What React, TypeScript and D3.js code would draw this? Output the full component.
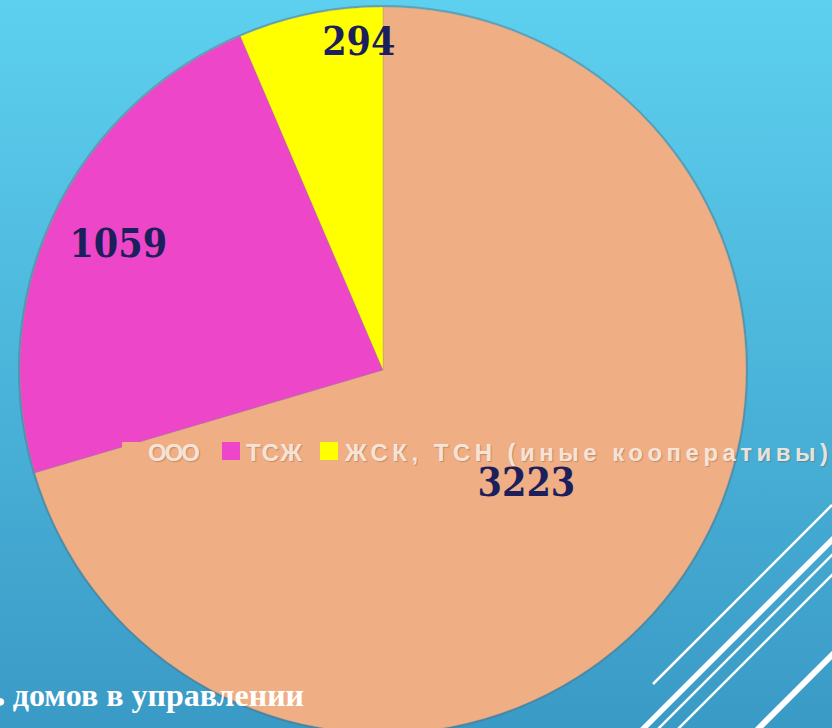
import React from "react";
import * as d3 from "d3";

const categories = ["ООО", "ТСЖ", "ЖСК, ТСН (иные кооперативы)"];
const values = [3223, 1059, 294];
const colors = ["#F0AE84", "#EE46C8", "#FFFF00"];
const title = "Численность домов в управлении";

// label placement: angle (deg clockwise from top) and radius fraction
const labelAngles = [127.8, 295.8, 355.8];
const labelRadii = [0.5, 0.81, 0.91];

const W = 832;
const H = 728;

export default function App() {
  const cx = 383;
  const cy = 370;
  const R = 363;
  const pie = d3.pie<number>().sort(null).value((d) => d)(values);
  const arc = d3.arc<d3.PieArcDatum<number>>().innerRadius(0).outerRadius(R);

  const legendItems = [
    { sx: 122, tx: 148, len: 52 },
    { sx: 222, tx: 246, len: 56 },
    { sx: 320, tx: 345, len: 483 },
  ];

  const diag = [
    { x1: 653, y1: 684, x2: 832, y2: 505, w: 2.5 },
    { x1: 642, y1: 730, x2: 834, y2: 538, w: 5.5 },
    { x1: 657, y1: 730, x2: 834, y2: 553, w: 2.5 },
    { x1: 677, y1: 730, x2: 834, y2: 573, w: 2.5 },
    { x1: 757, y1: 730, x2: 834, y2: 653, w: 6 },
  ];

  return (
    <svg
      width={W}
      height={H}
      style={{ position: "absolute", left: 0, top: 0 }}
      xmlns="http://www.w3.org/2000/svg"
    >
      <defs>
        <linearGradient id="bg" x1="0" y1="0" x2="0" y2="1">
          <stop offset="0%" stopColor="#5DD0EF" />
          <stop offset="100%" stopColor="#3A9AC6" />
        </linearGradient>
      </defs>
      <rect width={W} height={H} fill="url(#bg)" />

      {diag.map((d, i) => (
        <line key={i} x1={d.x1} y1={d.y1} x2={d.x2} y2={d.y2} stroke="#fff" strokeWidth={d.w} />
      ))}

      <g transform={`translate(${cx},${cy})`}>
        <circle r={R + 1} fill="none" stroke="#5a6d78" strokeOpacity={0.45} strokeWidth={2} />
        {pie.map((p, i) => (
          <path key={i} d={arc(p) || ""} fill={colors[i]} stroke="#9a8a80" strokeOpacity={0.35} strokeWidth={0.8} />
        ))}
        {pie.map((p, i) => {
          const a = (labelAngles[i] * Math.PI) / 180;
          const r = labelRadii[i] * R;
          return (
            <text
              key={i}
              x={Math.sin(a) * r}
              y={-Math.cos(a) * r}
              dy="0.38em"
              textAnchor="middle"
              fontFamily="'DejaVu Serif Condensed', 'DejaVu Serif', serif"
              fontWeight="bold"
              fontStretch="condensed"
              fontSize={39}
              fill="#1B1F5C"
            >
              {p.data}
            </text>
          );
        })}
      </g>

      {categories.map((c, i) => (
        <g key={i}>
          <rect x={legendItems[i].sx} y={442} width={18} height={18} fill={colors[i]} />
          <text
            x={legendItems[i].tx}
            y={461}
            fontFamily="'Liberation Sans', Arial, sans-serif"
            fontSize={24}
            fontWeight="bold"
            fill="#FBEFE4"
            fillOpacity={0.9}
            textLength={legendItems[i].len}
            lengthAdjust="spacing"
            style={{ textShadow: "1px 1px 1px rgba(120,80,60,0.4)" }}
          >
            {c}
          </text>
        </g>
      ))}

      <text
        x={304}
        y={706}
        textAnchor="end"
        fontFamily="'Liberation Serif', 'Times New Roman', serif"
        fontWeight="bold"
        fontSize={32}
        fill="#ffffff"
      >
        {title}
      </text>
    </svg>
  );
}
